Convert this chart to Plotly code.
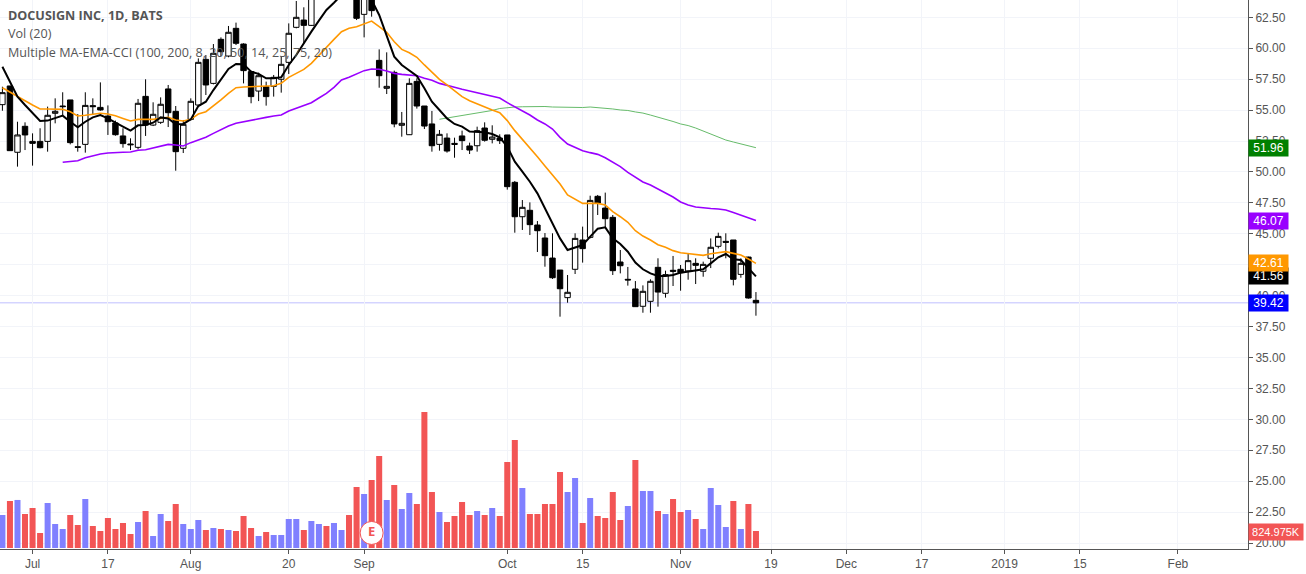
import plotly.graph_objects as go

# daily bars (last few hidden ones above the top are estimates)
opens = [55.44, 56.95, 51.59, 53.69, 52.47, 52.47, 52.47, 54.74, 55.33, 55.82,
         52.04, 52.23, 55.36, 55.22, 54.52, 53.96, 52.91, 52.26, 51.99, 56.11,
         53.79, 54.01, 56.71, 54.90, 51.91, 54.25, 55.41, 59.10, 57.16, 60.72,
         59.37, 61.61, 60.34, 58.11, 56.54, 56.89, 56.92, 57.49, 58.86, 61.69,
         62.28, 61.85, 65.00, 66.00, 66.80, 66.40, 65.60, 65.00, 62.74, 64.50,
         59.02, 56.76, 58.05, 53.77, 53.01, 57.32, 55.33, 53.88, 52.23, 52.74,
         52.31, 52.91, 52.10, 52.12, 53.55, 52.64, 52.74, 52.99, 49.16, 46.38,
         46.90, 45.71, 44.66, 43.04, 42.07, 39.84, 42.13, 44.50, 44.71, 48.03,
         47.08, 46.33, 42.72, 41.32, 40.54, 39.14, 39.54, 42.29, 40.19, 42.05,
         42.13, 42.00, 42.61, 41.97, 43.02, 43.99, 44.39, 44.50, 41.72, 43.12,
         39.62]
highs = [56.89, 56.95, 54.06, 54.01, 53.12, 53.53, 55.28, 55.95, 56.44, 55.82,
         54.68, 56.44, 55.95, 57.24, 55.38, 54.15, 53.53, 52.72, 55.90, 57.49,
         55.63, 56.03, 57.03, 55.33, 54.20, 55.95, 59.18, 59.45, 60.34, 60.88,
         61.80, 62.07, 60.40, 58.19, 58.03, 57.30, 57.84, 59.37, 62.01, 63.82,
         63.31, 66.00, 66.60, 67.50, 68.20, 67.90, 66.80, 65.30, 64.90, 64.80,
         59.91, 59.67, 58.19, 54.85, 57.57, 57.57, 55.33, 54.93, 53.39, 53.12,
         52.77, 53.34, 52.37, 53.66, 54.01, 53.77, 53.04, 52.99, 49.27, 47.73,
         47.54, 46.03, 45.06, 45.04, 42.07, 41.67, 45.04, 45.58, 48.08, 48.14,
         48.33, 46.52, 43.69, 42.32, 41.18, 40.83, 41.32, 43.02, 42.02, 43.21,
         42.48, 43.37, 43.02, 42.75, 44.63, 45.09, 45.04, 44.50, 43.02, 43.15,
         40.29]
lows = [54.95, 51.72, 50.43, 51.77, 50.51, 51.91, 51.64, 53.93, 54.60, 52.23,
        51.64, 51.56, 54.60, 54.95, 52.99, 52.93, 51.96, 51.77, 51.83, 52.91,
        53.71, 53.88, 53.63, 50.10, 51.53, 54.15, 55.33, 56.22, 57.08, 59.37,
        59.27, 60.26, 57.16, 55.55, 55.73, 55.36, 56.09, 56.41, 57.92, 61.61,
        60.40, 61.80, 64.20, 65.20, 65.60, 65.00, 64.30, 62.28, 60.88, 62.55,
        56.81, 56.30, 53.61, 52.85, 52.99, 55.12, 53.47, 51.64, 51.72, 51.56,
        51.15, 51.77, 51.45, 51.64, 52.45, 52.31, 52.26, 48.57, 45.09, 45.31,
        44.90, 43.53, 42.34, 41.35, 38.30, 39.43, 41.75, 42.67, 44.63, 46.52,
        45.52, 41.67, 41.80, 40.81, 39.11, 38.62, 38.62, 39.11, 39.84, 40.78,
        40.40, 41.29, 40.94, 41.53, 42.23, 43.82, 43.02, 40.83, 41.45, 39.76,
        38.38]
closes = [56.41, 51.72, 52.99, 52.99, 52.31, 51.96, 54.58, 54.90, 55.28, 52.37,
          51.99, 55.38, 55.28, 55.01, 54.06, 53.01, 52.29, 52.20, 55.55, 53.79,
          54.66, 55.47, 54.79, 51.64, 53.85, 55.71, 58.86, 57.03, 59.59, 59.72,
          61.29, 60.40, 58.19, 56.09, 57.78, 56.09, 57.65, 58.70, 61.21, 62.50,
          61.85, 65.20, 65.90, 67.00, 66.30, 65.40, 64.80, 62.42, 64.60, 63.04,
          57.78, 56.92, 53.88, 53.93, 57.16, 55.33, 53.71, 52.12, 53.04, 51.69,
          52.23, 52.53, 51.77, 53.34, 52.56, 52.82, 52.53, 48.81, 46.38, 47.14,
          45.74, 45.25, 43.23, 41.45, 40.56, 40.27, 44.63, 43.80, 47.70, 47.49,
          46.22, 42.02, 42.42, 41.27, 39.11, 40.35, 41.16, 40.29, 41.70, 41.97,
          41.86, 42.83, 42.45, 42.53, 43.91, 44.79, 44.31, 41.32, 42.61, 39.81,
          39.42]

# volume in thousands, up = 1 means a blue bar
volumes = [1600, 2280, 2330, 1650, 1940, 728, 2183, 1164, 922, 1600,
           1116, 2377, 1067, 825, 1455, 922, 1213, 679, 1261, 1795,
           582, 1650, 1310, 2134, 1164, 922, 1358, 873, 970, 922,
           873, 825, 1552, 970, 582, 776, 631, 631, 1407, 1407,
           873, 1310, 1164, 1067, 1213, 873, 1600, 2959, 2620, 3299,
           4463, 2328, 3056, 1892, 2668, 2134, 6597, 2717, 1746, 1261,
           1552, 2231, 1600, 1795, 1600, 1940, 1552, 4172, 5239, 2911,
           1650, 1650, 2134, 2134, 3687, 2717, 3396, 1213, 2426, 1552,
           1455, 2717, 1358, 2037, 4269, 2765, 2765, 1795, 1650, 2377,
           1746, 1843, 1407, 922, 2911, 2086, 1019, 2280, 922, 2134,
           824.975]
vol_up = [1, 0, 1, 0, 0, 0, 1, 1, 1, 0,
          0, 1, 0, 0, 0, 0, 0, 0, 1, 0,
          1, 1, 0, 0, 1, 1, 1, 0, 1, 0,
          1, 0, 0, 0, 1, 0, 1, 1, 1, 1,
          0, 1, 1, 0, 1, 1, 0, 0, 1, 0,
          0, 1, 0, 1, 1, 0, 0, 0, 1, 0,
          0, 0, 0, 1, 0, 1, 0, 0, 0, 1,
          0, 0, 0, 0, 0, 1, 1, 0, 1, 0,
          0, 0, 0, 1, 0, 1, 1, 0, 1, 0,
          0, 1, 0, 1, 1, 1, 1, 0, 1, 0,
          0]

# moving averages
ma_fast = [58.51, 57.30, 56.09, 55.41, 54.74, 54.12, 54.15, 54.33, 54.55, 54.06,
           53.61, 54.06, 54.41, 54.60, 54.33, 53.98, 53.66, 53.34, 53.77, 53.79,
           53.98, 54.41, 54.33, 53.85, 53.88, 54.25, 55.33, 55.68, 56.62, 57.43,
           58.32, 58.73, 58.70, 58.11, 57.92, 57.57, 57.57, 57.65, 58.65, 59.45,
           60.45, 61.34, 62.23, 63.09, 63.68, 64.30, 64.71, 64.84, 64.57, 63.90,
           62.69, 61.07, 59.32, 58.65, 58.19, 57.76, 56.76, 55.68, 55.01, 54.33,
           53.88, 53.66, 53.26, 53.26, 53.20, 53.07, 52.80, 52.04, 50.83, 50.02,
           49.21, 48.27, 47.06, 45.85, 44.63, 43.69, 43.88, 44.09, 44.77, 45.41,
           45.52, 44.63, 44.17, 43.55, 42.67, 42.13, 41.80, 41.59, 41.59, 41.67,
           41.86, 41.94, 41.99, 42.13, 42.61, 43.10, 43.37, 42.94, 42.88, 42.21,
           41.56]
ma_mid = [56.81, 56.44, 56.09, 55.76, 55.41, 55.09, 55.09, 55.09, 55.06, 54.87,
          54.52, 54.58, 54.68, 54.74, 54.68, 54.55, 54.33, 54.12, 54.25, 54.25,
          54.25, 54.33, 54.41, 54.20, 54.12, 54.25, 54.68, 54.87, 55.33, 55.82,
          56.35, 56.81, 56.87, 56.89, 56.89, 56.89, 56.97, 57.16, 57.65, 57.97,
          58.29, 58.78, 59.45, 60.07, 60.72, 61.34, 61.61, 61.74, 61.96, 62.20,
          61.74, 61.29, 60.53, 59.91, 59.64, 59.27, 58.65, 58.03, 57.49, 57.03,
          56.57, 56.09, 55.76, 55.49, 55.22, 55.01, 54.79, 54.15, 53.34, 52.64,
          51.99, 51.23, 50.48, 49.75, 49.03, 48.14, 47.79, 47.46, 47.46, 47.46,
          47.33, 46.79, 46.38, 45.93, 45.25, 44.82, 44.50, 44.12, 43.91, 43.64,
          43.47, 43.39, 43.31, 43.26, 43.39, 43.50, 43.56, 43.42, 43.29, 42.96,
          42.61]
ma_slow = [50.78, 50.83, 50.91, 51.15, 51.32, 51.45, 51.53, 51.59, 51.59, 51.61,
           51.75, 51.80, 51.94, 52.10, 52.23, 52.18, 52.10, 52.37, 52.58, 52.80,
           53.12, 53.44, 53.71, 53.93, 54.06, 54.20, 54.33, 54.41, 54.52, 54.60,
           54.93, 55.14, 55.38, 55.60, 55.98, 56.35, 56.84, 57.43, 57.65, 57.92,
           58.19, 58.32, 58.30, 58.16, 57.97, 57.89, 57.86, 57.78, 57.57, 57.41,
           57.16, 56.97, 56.84, 56.68, 56.54, 56.41, 56.27, 56.14, 55.98, 55.60,
           55.28, 54.93, 54.60, 54.20, 53.88, 53.47, 52.80, 52.26, 51.99, 51.72,
           51.56, 51.42, 51.15, 50.80, 50.43, 49.97, 49.59, 49.19, 48.94, 48.62,
           48.30, 47.97, 47.57, 47.33, 47.17, 47.09, 47.04, 47.00, 46.92, 46.72,
           46.52, 46.28, 46.07]
ma_long = [54.26, 54.36, 54.47, 54.56, 54.62, 54.72, 54.81, 54.97, 55.13, 55.21,
           55.25, 55.27, 55.29, 55.29, 55.29, 55.25, 55.23, 55.21, 55.17, 55.21,
           55.25, 55.21, 55.13, 55.09, 55.01, 54.97, 54.85, 54.76, 54.60, 54.44,
           54.24, 54.08, 53.88, 53.75, 53.55, 53.31, 53.07, 52.82, 52.58, 52.42,
           52.26, 52.14, 51.96]

# axis ticks
x_tick_bars = [4, 14, 25, 38, 48, 67, 77, 90, 102, 112, 122, 133, 143, 156]
x_tick_labels = ['Jul', '17', 'Aug', '20', 'Sep', 'Oct', '15', 'Nov', '19', 'Dec', '17', '2019', '15', 'Feb']
y_ticks = [20, 22.5, 25, 27.5, 30, 32.5, 35, 37.5, 40, 42.5, 45, 47.5, 50, 52.5, 55, 57.5, 60, 62.5]

legend_lines = ['<b>DOCUSIGN INC, 1D, BATS</b>', 'Vol (20)',
                'Multiple MA-EMA-CCI (100, 200, 8, 20, 50, 14, 25, 75, 20)']
price_labels = [('51.96', 51.96, '#008000'), ('46.07', 46.07, '#9900FF'), ('41.56', 41.56, '#000000'),
                ('42.61', 42.61, '#FF9800'), ('39.42', 39.42, '#0000FF')]
earnings_bar = 49
earnings_vol = 730

TEXT = '#555555'
GRID = '#F2F4F9'
bars = list(range(len(closes)))

fig = go.Figure()

fig.add_trace(go.Bar(
    x=bars, y=volumes, yaxis='y2', width=0.8,
    marker=dict(color=['#8080FF' if up else '#F25555' for up in vol_up], line_width=0),
))
fig.add_trace(go.Scatter(x=bars[len(bars) - len(ma_long):], y=ma_long, mode='lines',
                         line=dict(color='#66BB6A', width=1)))
fig.add_trace(go.Candlestick(
    x=bars, open=opens, high=highs, low=lows, close=closes,
    increasing=dict(line=dict(color='black', width=1), fillcolor='white'),
    decreasing=dict(line=dict(color='black', width=1), fillcolor='black'),
))
fig.add_trace(go.Scatter(x=bars[len(bars) - len(ma_slow):], y=ma_slow, mode='lines',
                         line=dict(color='#9900FF', width=1.6)))
fig.add_trace(go.Scatter(x=bars, y=ma_mid, mode='lines', line=dict(color='#FF9800', width=1.6)))
fig.add_trace(go.Scatter(x=bars, y=ma_fast, mode='lines', line=dict(color='black', width=2)))
fig.add_trace(go.Scatter(
    x=[earnings_bar], y=[earnings_vol], yaxis='y2', mode='markers+text', text=['<b>E</b>'],
    textposition='middle center', textfont=dict(color='#F25555', size=13, family='Open Sans'),
    marker=dict(size=23, color='white', line=dict(color='#F25555', width=1)),
))

fig.add_hline(y=closes[-1], line=dict(color='rgba(0,0,255,0.25)', width=1), layer='below')

for i, line in enumerate(legend_lines):
    fig.add_annotation(text=line, xref='paper', yref='paper', x=0, y=1, xanchor='left', yanchor='top',
                       xshift=7, yshift=-6 - 18.3 * i, showarrow=False, borderpad=0,
                       font=dict(family='Open Sans', size=12.6, color=TEXT))

for label, price, color in price_labels:
    fig.add_annotation(text=label, xref='paper', yref='y', x=1, y=price, xanchor='left', yanchor='middle',
                       showarrow=False, width=39, height=16, bgcolor=color, borderpad=0,
                       font=dict(family='Liberation Sans', size=12, color='white'))
fig.add_annotation(text='824.975K', xref='paper', yref='y2', x=1, y=volumes[-1] / 2 + 350, xanchor='left',
                   yanchor='middle', showarrow=False, width=54, height=16, bgcolor='#F25555', borderpad=0,
                   font=dict(family='Liberation Sans', size=11, color='white'))

fig.update_layout(
    width=1306, height=574,
    margin=dict(l=0, r=58, t=0, b=25, pad=0),
    paper_bgcolor='white', plot_bgcolor='white',
    showlegend=False, hovermode=False,
    font=dict(family='Liberation Sans', size=12, color=TEXT),
    bargap=0.2, boxgap=0.2, boxgroupgap=0.1,
    xaxis=dict(
        type='linear', range=[-0.32, 165.3], rangeslider=dict(visible=False),
        tickmode='array', tickvals=x_tick_bars, ticktext=x_tick_labels,
        showgrid=True, gridcolor=GRID, gridwidth=1, zeroline=False,
        showline=True, linecolor=TEXT, linewidth=1,
        ticks='outside', ticklen=4, tickcolor=TEXT,
    ),
    yaxis=dict(
        side='right', range=[19.52, 63.9],
        tickmode='array', tickvals=y_ticks, tickformat='.2f',
        showgrid=True, gridcolor=GRID, gridwidth=1, zeroline=False,
        showline=True, linecolor=TEXT, linewidth=1,
        ticks='outside', ticklen=4, tickcolor=TEXT,
    ),
    yaxis2=dict(overlaying='y', side='right', range=[-48.5, 26578], visible=False),
)

# the page's default body margin would shift the chart 8px
fig.write_html("out.html", config=dict(displayModeBar=False),
               post_script="document.body.style.margin = '0';")
